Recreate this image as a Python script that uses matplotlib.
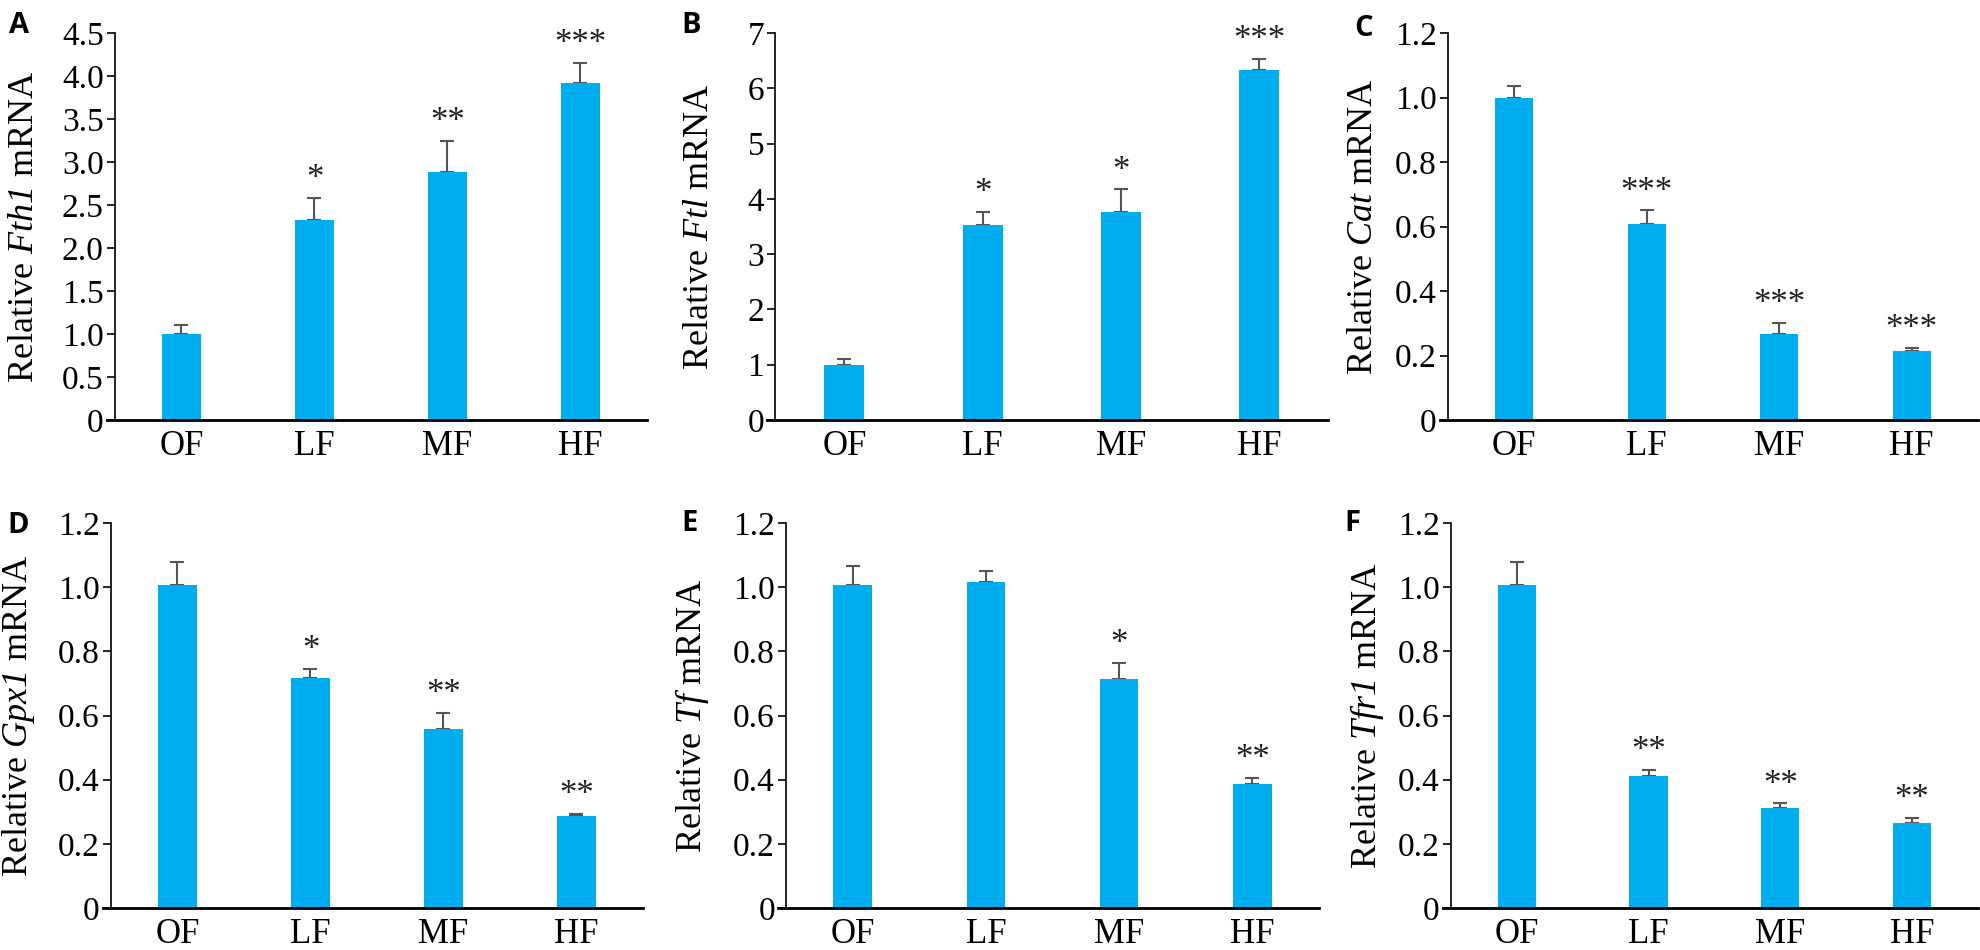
import numpy as np
import matplotlib.pyplot as plt
from matplotlib.ticker import FuncFormatter

plt.rcParams['font.family'] = 'Liberation Serif'
plt.rcParams['mathtext.fontset'] = 'custom'
plt.rcParams['mathtext.rm'] = 'Liberation Serif:italic'
plt.rcParams['mathtext.it'] = 'Liberation Serif:italic'

groups = ['OF', 'LF', 'MF', 'HF']

# relative mRNA means and upper SEM
fth1 = [1.00, 2.32, 2.88, 3.92]
fth1_err = [0.10, 0.26, 0.37, 0.23]
fth1_sig = ['', '*', '**', '***']

ftl = [1.00, 3.52, 3.76, 6.33]
ftl_err = [0.10, 0.24, 0.41, 0.20]
ftl_sig = ['', '*', '*', '***']

cat = [1.00, 0.609, 0.267, 0.214]
cat_err = [0.036, 0.041, 0.035, 0.009]
cat_sig = ['', '***', '***', '***']

gpx1 = [1.006, 0.716, 0.557, 0.286]
gpx1_err = [0.074, 0.030, 0.051, 0.007]
gpx1_sig = ['', '*', '**', '**']

tf = [1.006, 1.015, 0.713, 0.388]
tf_err = [0.060, 0.035, 0.052, 0.017]
tf_sig = ['', '', '*', '**']

tfr1 = [1.006, 0.410, 0.313, 0.265]
tfr1_err = [0.071, 0.020, 0.013, 0.015]
tfr1_sig = ['', '**', '**', '**']

W, H = 1980, 950
fig = plt.figure(figsize=(W / 100, H / 100), dpi=100)


def px_rect(left, right, top, bottom):
    return [left / W, 1 - bottom / H, (right - left) / W, (bottom - top) / H]


def fmt(v, pos):
    if abs(v) < 1e-9:
        return '0'
    return f'{v:.1f}'


panels = [
    # letter, gene, values, errors, stars, ymax, ystep, int ticks, rect px, label x, letter pos
    ('A', 'Fth1', fth1, fth1_err, fth1_sig, 4.5, 0.5, False, (107, 647, 33, 420), 25, (9, 33)),
    ('B', 'Ftl', ftl, ftl_err, ftl_sig, 7, 1, True, (767, 1328, 33, 420), 700, (681, 33)),
    ('C', 'Cat', cat, cat_err, cat_sig, 1.2, 0.2, False, (1440, 1978, 33, 420), 1363, (1354, 36)),
    ('D', 'Gpx1', gpx1, gpx1_err, gpx1_sig, 1.2, 0.2, False, (103, 643, 523, 908), 19, (7, 533)),
    ('E', 'Tf', tf, tf_err, tf_sig, 1.2, 0.2, False, (778, 1319, 523, 908), 692, (681, 531)),
    ('F', 'Tfr1', tfr1, tfr1_err, tfr1_sig, 1.2, 0.2, False, (1443, 1978, 523, 908), 1367, (1344, 531)),
]

x = np.arange(len(groups))
for letter, gene, vals, errs, sig, ymax, ystep, as_int, rect, lab_x, let_pos in panels:
    ax = fig.add_axes(px_rect(*rect))
    ax.bar(x, vals, width=0.29, color='#00AEEF', zorder=2)
    ax.errorbar(x, vals, yerr=[np.zeros(len(vals)), errs], fmt='none',
                ecolor='#555555', elinewidth=1.5, capsize=5, capthick=1.5, zorder=1)
    for xi, v, e, s in zip(x, vals, errs, sig):
        if s:
            ax.annotate(s, (xi, v + e), xytext=(0, 7), textcoords='offset points',
                        ha='center', va='baseline', fontsize=25, color='#222222')

    ax.set_xlim(-0.56, 3.5)
    ax.set_ylim(0, ymax)
    ax.set_yticks(np.arange(0, ymax + ystep / 2, ystep))
    if as_int:
        ax.yaxis.set_major_formatter(FuncFormatter(lambda v, p: f'{v:.0f}'))
    else:
        ax.yaxis.set_major_formatter(FuncFormatter(fmt))
    ax.set_xticks(x)
    ax.set_xticklabels(groups)

    ax.spines['top'].set_visible(False)
    ax.spines['right'].set_visible(False)
    ax.spines['left'].set_position(('data', -0.5))
    ax.spines['left'].set_linewidth(1.2)
    ax.spines['bottom'].set_linewidth(2)
    ax.tick_params(axis='x', length=0, pad=7, labelsize=25)
    ax.tick_params(axis='y', length=6, width=1.2, pad=2, labelsize=24, direction='out')

    top, bottom = rect[2], rect[3]
    fig.text(lab_x / W, 1 - (top + bottom) / 2 / H, f'Relative $\\mathit{{{gene}}}$ mRNA',
             rotation=90, ha='center', va='center', fontsize=26)
    fig.text(let_pos[0] / W, 1 - let_pos[1] / H, letter, ha='left', va='baseline',
             fontsize=21, fontweight='bold', family='Open Sans')

fig.savefig('out.png', dpi=100)
